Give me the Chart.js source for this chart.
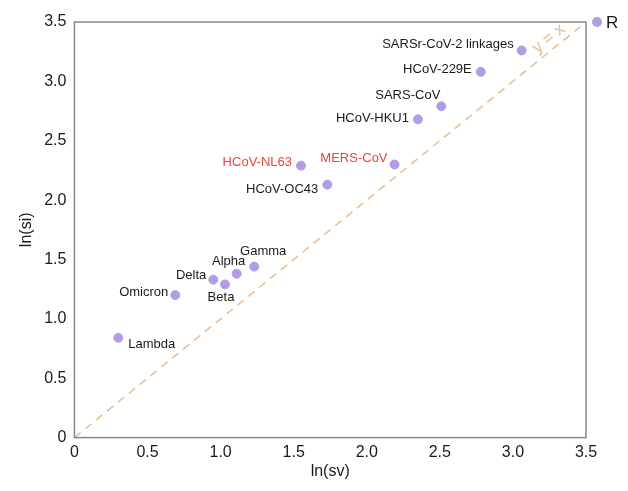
<!DOCTYPE html>
<html>
<head>
<meta charset="utf-8">
<script src="https://cdn.jsdelivr.net/npm/chart.js@4.4.1/dist/chart.umd.min.js"></script>
<style>
  html, body { margin: 0; padding: 0; background: #fff; }
  #wrap { width: 628px; height: 491px; }
</style>
</head>
<body>
<div id="wrap"><canvas id="chart" width="628" height="491"></canvas></div>
<script>
// values
var names = ["Lambda", "Omicron", "Delta", "Beta", "Alpha", "Gamma", "HCoV-NL63", "HCoV-OC43",
             "MERS-CoV", "HCoV-HKU1", "SARS-CoV", "HCoV-229E", "SARSr-CoV-2 linkages"];
var lnSv = [0.30, 0.69, 0.95, 1.03, 1.11, 1.23, 1.55, 1.73, 2.19, 2.35, 2.51, 2.78, 3.06];
var lnSi = [0.84, 1.20, 1.33, 1.29, 1.38, 1.44, 2.29, 2.13, 2.30, 2.68, 2.79, 3.08, 3.26];
var redNames = ["HCoV-NL63", "MERS-CoV"];
var xTicks = [0, 0.5, 1.0, 1.5, 2.0, 2.5, 3.0, 3.5];
var yTicks = [0, 0.5, 1.0, 1.5, 2.0, 2.5, 3.0, 3.5];
var refLine = [0, 3.5]; // y = x

// where each label sits relative to its dot (px)
var labelPlace = {
  "Lambda": [10, 7, "left"],
  "Omicron": [-7, -3, "right"],
  "Delta": [-7, -4, "right"],
  "Beta": [-4, 13, "center"],
  "Alpha": [-8, -12, "center"],
  "Gamma": [9, -15, "center"],
  "HCoV-NL63": [-9, -3, "right"],
  "HCoV-OC43": [-9, 5, "right"],
  "MERS-CoV": [-7, -6, "right"],
  "HCoV-HKU1": [-9, -1, "right"],
  "SARS-CoV": [-1, -11, "right"],
  "HCoV-229E": [-9, -2, "right"],
  "SARSr-CoV-2 linkages": [-8, -6, "right"]
};

var pts = [];
for (var i = 0; i < names.length; i++) {
  pts.push({x: lnSv[i], y: lnSi[i], name: names[i]});
}

var FONT = "'Liberation Sans', Arial, sans-serif";
var dotColor = "#b39ce6";
var lineColor = "#e9bb90";

var framePlugin = {
  id: "frame",
  afterDatasetsDraw: function (chart) {
    var ctx = chart.ctx, a = chart.chartArea;
    ctx.save();
    ctx.strokeStyle = "#888";
    ctx.lineWidth = 1.5;
    ctx.strokeRect(a.left, a.top, a.right - a.left, a.bottom - a.top);

    // point labels
    var meta = chart.getDatasetMeta(0);
    ctx.font = "13px " + FONT;
    ctx.textBaseline = "middle";
    meta.data.forEach(function (el, idx) {
      var n = names[idx];
      var p = labelPlace[n];
      ctx.fillStyle = redNames.indexOf(n) >= 0 ? "#e8453c" : "#1a1a1a";
      ctx.textAlign = p[2];
      ctx.fillText(n, el.x + p[0], el.y + p[1]);
    });

    // legend entry for the dots, just right of the frame top corner
    var ds = chart.data.datasets[0];
    ctx.fillStyle = ds.backgroundColor;
    ctx.beginPath();
    ctx.arc(a.right + 11, a.top, 5, 0, Math.PI * 2);
    ctx.fill();
    ctx.fillStyle = "#1a1a1a";
    ctx.font = "17px " + FONT;
    ctx.textAlign = "left";
    ctx.fillText(ds.label, a.right + 20, a.top + 1);

    // y = x tag along the dashed line
    var xs = chart.scales.x, ys = chart.scales.y;
    var px = xs.getPixelForValue(3.3), py = ys.getPixelForValue(3.3);
    var ang = Math.atan2(ys.getPixelForValue(1) - ys.getPixelForValue(0), xs.getPixelForValue(1) - xs.getPixelForValue(0));
    ctx.translate(px - 8, py - 7);
    ctx.rotate(ang);
    ctx.fillStyle = lineColor;
    ctx.font = "17px " + FONT;
    ctx.textAlign = "center";
    ctx.fillText("y = x", 0, 0);
    ctx.restore();
  }
};

new Chart(document.getElementById("chart"), {
  type: "scatter",
  data: {
    datasets: [{
      label: "R",
      data: pts,
      backgroundColor: dotColor,
      borderColor: dotColor,
      pointRadius: 4.5,
      pointHoverRadius: 4.5
    }, {
      type: "line",
      label: "y = x",
      data: [{x: refLine[0], y: refLine[0]}, {x: refLine[1], y: refLine[1]}],
      borderColor: lineColor,
      borderWidth: 1.5,
      borderDash: [8, 6],
      pointRadius: 0,
      fill: false
    }]
  },
  options: {
    responsive: false,
    animation: false,
    layout: { padding: { top: 22, right: 42, bottom: 10, left: 17 } },
    plugins: {
      tooltip: { enabled: false },
      legend: { display: false }
    },
    scales: {
      x: {
        type: "linear",
        min: 0,
        max: 3.5,
        grid: { display: false, drawTicks: false, tickLength: 0 },
        border: { display: false },
        afterBuildTicks: function (axis) { axis.ticks = xTicks.map(function (v) { return {value: v}; }); },
        ticks: {
          color: "#1a1a1a",
          font: { family: FONT, size: 16 },
          padding: 5,
          maxRotation: 0,
          callback: function (v) { return v === 0 ? "0" : v.toFixed(1); }
        },
        title: { display: true, text: "ln(sv)", color: "#1a1a1a", font: { family: FONT, size: 16 }, padding: { top: -5, bottom: 0 } }
      },
      y: {
        type: "linear",
        min: 0,
        max: 3.5,
        grid: { display: false, drawTicks: false, tickLength: 0 },
        border: { display: false },
        afterBuildTicks: function (axis) { axis.ticks = yTicks.map(function (v) { return {value: v}; }); },
        ticks: {
          color: "#1a1a1a",
          font: { family: FONT, size: 16 },
          padding: 8,
          callback: function (v) { return v === 0 ? "0" : v.toFixed(1); }
        },
        title: { display: true, text: "ln(si)", color: "#1a1a1a", font: { family: FONT, size: 16 }, padding: { top: 0, bottom: 0 } }
      }
    }
  },
  plugins: [framePlugin]
});
</script>
</body>
</html>
